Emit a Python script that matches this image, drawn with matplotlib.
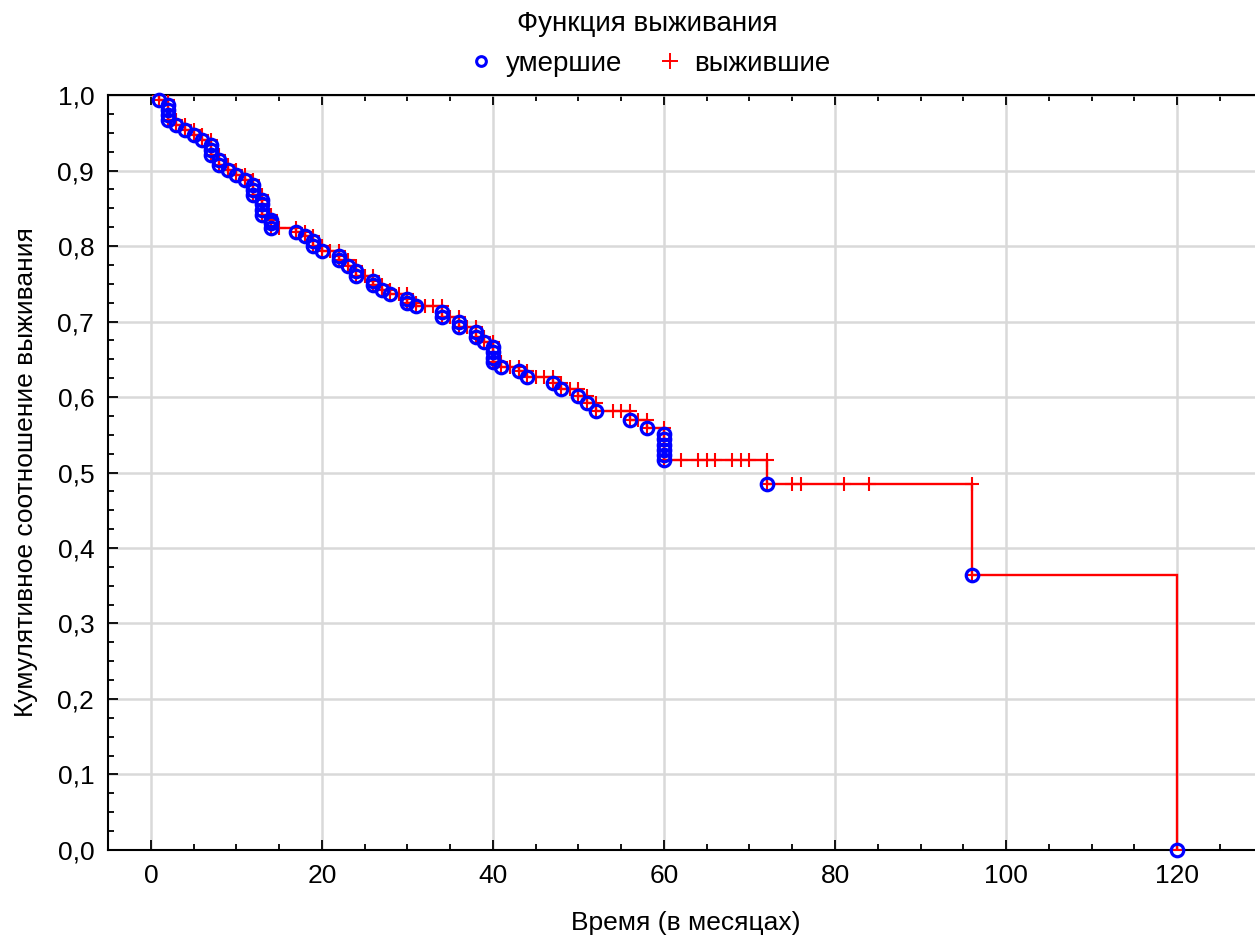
import numpy as np
import matplotlib.pyplot as plt
from matplotlib.lines import Line2D
from matplotlib.ticker import MultipleLocator, FuncFormatter

plt.rcParams['font.family'] = ['Liberation Sans', 'DejaVu Sans']

# Deaths: one entry per deceased patient (time in months, cumulative survival after the event)
death_times = [1,
               2, 2, 2, 2,
               3, 4, 5, 6,
               7, 7, 7,
               8, 8,
               9, 10, 11,
               12, 12, 12,
               13, 13, 13, 13,
               14, 14, 14,
               17, 18, 19, 19, 20,
               22, 22, 23, 24, 24,
               26, 26, 27, 28, 30, 30, 31,
               34, 34, 36, 36, 38, 38, 39,
               40, 40, 40, 40, 41, 43, 44,
               47, 48, 50, 51, 52, 56, 58,
               60, 60, 60, 60, 60, 60,
               72, 96, 120]
death_surv = [0.993,
              0.987, 0.980, 0.973, 0.967,
              0.960, 0.954, 0.947, 0.940,
              0.934, 0.927, 0.920,
              0.914, 0.907,
              0.901, 0.894, 0.888,
              0.881, 0.874, 0.868,
              0.861, 0.855, 0.848, 0.841,
              0.835, 0.830, 0.824,
              0.819, 0.813, 0.806, 0.800, 0.793,
              0.787, 0.781, 0.774, 0.767, 0.760,
              0.754, 0.748, 0.742, 0.736, 0.730, 0.725, 0.720,
              0.713, 0.706, 0.700, 0.693, 0.686, 0.680, 0.673,
              0.666, 0.659, 0.652, 0.646, 0.640, 0.634, 0.627,
              0.619, 0.611, 0.601, 0.592, 0.582, 0.570, 0.559,
              0.551, 0.544, 0.537, 0.530, 0.523, 0.516,
              0.485, 0.364, 0.000]

# Censored observations (survivors), time in months
cens_times = [1, 2, 3, 4, 5, 6, 7, 8, 9, 10, 11, 12, 13, 14, 15,
              17, 18, 19, 20, 21, 22, 23, 24, 25, 26, 27, 28, 29, 30,
              31, 32, 33, 34, 35, 36, 37, 38, 39, 40, 41, 42, 43, 44,
              45, 46, 47, 48, 49, 50, 51, 52, 54, 55, 56, 57, 58, 60,
              62, 64, 65, 66, 68, 69, 70, 72, 75, 76, 81, 84, 96]

x_ticks = [0, 20, 40, 60, 80, 100, 120]
y_ticks = [0.0, 0.1, 0.2, 0.3, 0.4, 0.5, 0.6, 0.7, 0.8, 0.9, 1.0]

dt = np.array(death_times, dtype=float)
ds = np.array(death_surv, dtype=float)
ct = np.array(cens_times, dtype=float)

# Kaplan-Meier step line
start = min(dt.min(), ct.min())
xs, ys = [start], [1.0]
prev = 1.0
for t, s in zip(dt, ds):
    xs += [t, t]
    ys += [prev, s]
    prev = s

# survival level just before each censoring time
def surv_before(t):
    earlier = ds[dt < t]
    return earlier[-1] if earlier.size else 1.0

cs = np.array([surv_before(t) for t in ct])

fig = plt.figure(figsize=(12.55, 9.39), dpi=100)
ax = fig.add_axes([0.0861, 0.0948, 0.920, 0.804])

ax.plot(xs, ys, color='#ff0000', lw=1.7, zorder=3, solid_joinstyle='miter')
ax.plot(ct, cs, ls='none', marker='+', ms=10.5, mew=1.5, color='#ff0000', zorder=4)
ax.plot(dt, ds, ls='none', marker='+', ms=10.5, mew=1.5, color='#ff0000', zorder=4)
ax.plot(dt, ds, ls='none', marker='o', ms=9, mew=2.3, mfc='none', mec='#0000ff',
        zorder=5, clip_on=False)

ax.set_xlim(-5, 130)
ax.set_ylim(0, 1.0)
ax.set_xticks(x_ticks)
ax.set_yticks(y_ticks)
ax.xaxis.set_minor_locator(MultipleLocator(5))
ax.yaxis.set_minor_locator(MultipleLocator(0.025))
ax.yaxis.set_major_formatter(FuncFormatter(lambda v, p: f"{v:.1f}".replace('.', ',')))

ax.grid(True, which='major', color='#d9d9d9', lw=1.8, zorder=0)
ax.set_axisbelow(True)
ax.tick_params(which='both', direction='in', top=True, right=False,
               labelsize=19, colors='black', width=1.3)
ax.tick_params(which='major', length=7, pad=10)
ax.tick_params(which='minor', length=4)
for side in ['left', 'top', 'bottom']:
    ax.spines[side].set_linewidth(1.5)
ax.spines['right'].set_visible(False)

ax.set_xlabel('Время (в месяцах)', fontsize=19, labelpad=17)
ax.set_ylabel('Кумулятивное соотношение выживания', fontsize=19, labelpad=14)

handles = [Line2D([], [], ls='none', marker='o', ms=7, mew=2.2, mfc='none', mec='#0000ff'),
           Line2D([], [], ls='none', marker='+', ms=11, mew=1.4, color='#ff0000')]
fig.legend(handles, ['умершие', 'выжившие'], loc='upper center',
           bbox_to_anchor=(0.516, 1.006), ncol=2, frameon=False, fontsize=20,
           title='Функция выживания', title_fontsize=20, handletextpad=0.3,
           columnspacing=1.1, handlelength=1.2, borderaxespad=0.2)

fig.savefig('out.png', dpi=100)
